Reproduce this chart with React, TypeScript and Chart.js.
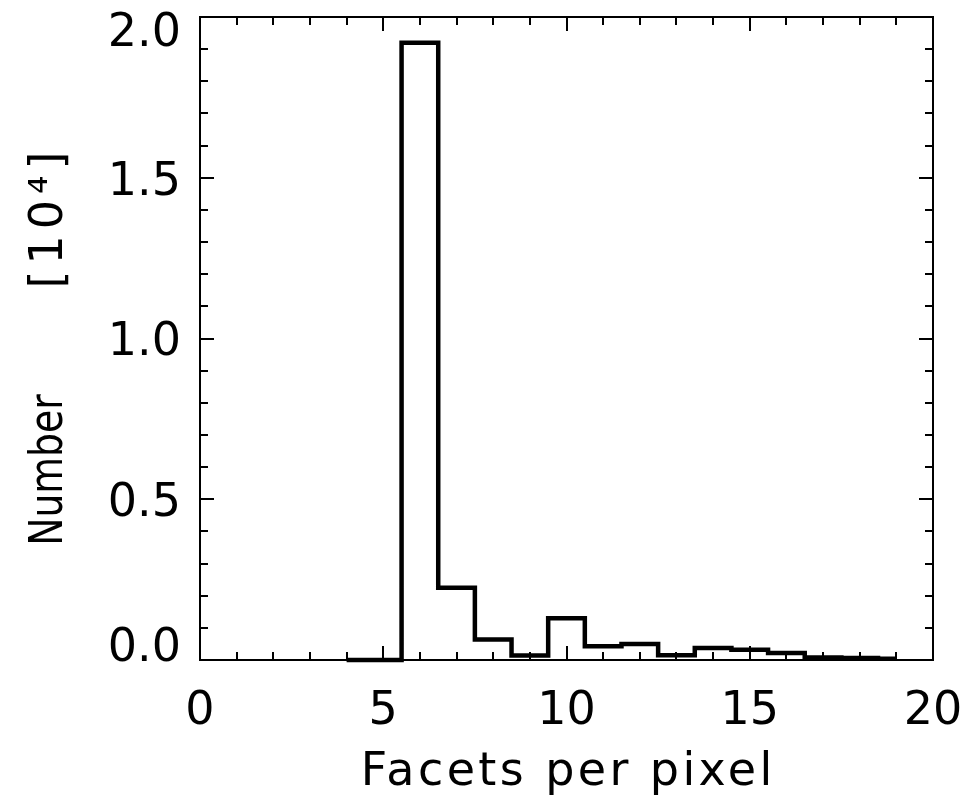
import React, { useEffect, useRef } from 'react';
import { Chart, registerables } from 'chart.js';

Chart.register(...registerables);

// Histogram bin centres (facets per pixel) and counts in units of 10^4
const binCenters = [4, 5, 6, 7, 8, 9, 10, 11, 12, 13, 14, 15, 16, 17, 18, 19];
const counts = [0, 0, 1.92, 0.225, 0.064, 0.014, 0.13, 0.043, 0.05, 0.015, 0.037, 0.032, 0.022, 0.008, 0.006, 0.004];

// Axis ranges and tick spacing
const xRange = [0, 20];
const xMajor = 5;
const xMinor = 1;
const yRange = [0, 2];
const yMajor = 0.5;
const yMinor = 0.1;

const xTitle = 'Facets per pixel';
const yTitleWord = 'Number';
const yTitleUnit = '[10\u2074]';

const FONT = 'DejaVu Sans';
const TICK_SIZE = 46;
const TITLE_SIZE = 46;

const framePlugin = {
  id: 'idlFrame',
  afterDatasetsDraw(chart: any) {
    const { ctx, chartArea, scales } = chart;
    const { left, right, top, bottom } = chartArea;
    const xs = scales.x;
    const ys = scales.y;
    ctx.save();
    ctx.strokeStyle = '#000';
    ctx.lineWidth = 2;
    ctx.strokeRect(left, top, right - left, bottom - top);
    ctx.beginPath();
    const nx = Math.round((xRange[1] - xRange[0]) / xMinor);
    for (let i = 0; i <= nx; i++) {
      const v = xRange[0] + i * xMinor;
      const px = Math.round(xs.getPixelForValue(v));
      const major = Math.abs(v / xMajor - Math.round(v / xMajor)) < 1e-6;
      const len = major ? 14 : 8;
      ctx.moveTo(px, bottom);
      ctx.lineTo(px, bottom - len);
      ctx.moveTo(px, top);
      ctx.lineTo(px, top + len);
    }
    const ny = Math.round((yRange[1] - yRange[0]) / yMinor);
    for (let i = 0; i <= ny; i++) {
      const v = yRange[0] + i * yMinor;
      const py = Math.round(ys.getPixelForValue(v));
      const major = Math.abs(v / yMajor - Math.round(v / yMajor)) < 1e-6;
      const len = major ? 14 : 8;
      ctx.moveTo(left, py);
      ctx.lineTo(left + len, py);
      ctx.moveTo(right, py);
      ctx.lineTo(right - len, py);
    }
    ctx.stroke();

    // tick labels
    ctx.fillStyle = '#000';
    ctx.font = `${TICK_SIZE}px "${FONT}"`;
    ctx.textBaseline = 'alphabetic';
    const h = TICK_SIZE * 0.729;
    ctx.textAlign = 'right';
    ys.ticks.forEach((t: any) => {
      const py = ys.getPixelForValue(t.value);
      let base = py + h / 2;
      base = Math.max(base, top - 5 + h);
      base = Math.min(base, bottom + 1);
      ctx.fillText(t.value.toFixed(1), left - 19, base);
    });
    ctx.textAlign = 'center';
    xs.ticks.forEach((t: any) => {
      const px = xs.getPixelForValue(t.value);
      ctx.fillText(String(t.value), px, bottom + 30 + h);
    });

    // x title (IDL-like wide letter spacing)
    ctx.font = `${TITLE_SIZE}px "${FONT}"`;
    const ls = 3.4;
    (ctx as any).letterSpacing = `${ls}px`;
    ctx.textAlign = 'center';
    ctx.fillText(xTitle, (left + right) / 2 + ls / 2, 785);

    // y title, rotated
    ctx.save();
    ctx.translate(62, 0);
    ctx.rotate(-Math.PI / 2);
    // "Number" centred at y=470 (x=-470 in rotated frame), condensed
    (ctx as any).letterSpacing = '0px';
    ctx.save();
    ctx.translate(-470, 0);
    ctx.scale(0.82, 1);
    ctx.textAlign = 'center';
    ctx.fillText(yTitleWord, 0, 0);
    ctx.restore();
    // "[10^4]" centred at y=220
    (ctx as any).letterSpacing = '6px';
    ctx.textAlign = 'center';
    ctx.fillText(yTitleUnit, -220 + 3, 0);
    ctx.restore();

    ctx.restore();
  },
};

export default function App() {
  const ref = useRef<HTMLCanvasElement | null>(null);
  useEffect(() => {
    if (!ref.current) return;
    const chart = new Chart(ref.current, {
      type: 'line',
      data: {
        datasets: [
          {
            data: binCenters.map((x, i) => ({ x, y: counts[i] })),
            stepped: 'middle',
            borderColor: '#000',
            borderWidth: 4.5,
            pointRadius: 0,
            fill: false,
            clip: false,
          } as any,
        ],
      },
      options: {
        animation: false,
        responsive: false,
        events: [],
        layout: { padding: { top: 17, right: 32, left: 0, bottom: 0 } },
        plugins: { legend: { display: false }, tooltip: { enabled: false } },
        scales: {
          x: {
            type: 'linear',
            position: 'bottom',
            min: xRange[0],
            max: xRange[1],
            ticks: { stepSize: xMajor, display: false },
            grid: { display: false, drawTicks: false },
            border: { display: false },
            title: { display: false },
            afterFit: (s: any) => {
              s.height = 141;
              s.paddingLeft = 0;
              s.paddingRight = 0;
            },
          },
          y: {
            type: 'linear',
            position: 'left',
            min: yRange[0],
            max: yRange[1],
            ticks: { stepSize: yMajor, display: false },
            grid: { display: false, drawTicks: false },
            border: { display: false },
            title: { display: false },
            afterFit: (s: any) => {
              s.width = 200;
              s.paddingTop = 0;
              s.paddingBottom = 0;
            },
          },
        },
      },
      plugins: [framePlugin],
    });
    return () => chart.destroy();
  }, []);
  return (
    <div style={{ position: 'absolute', left: 0, top: 0, width: 965, height: 801, background: '#fff' }}>
      <canvas ref={ref} width={965} height={801} style={{ display: 'block' }} />
    </div>
  );
}
